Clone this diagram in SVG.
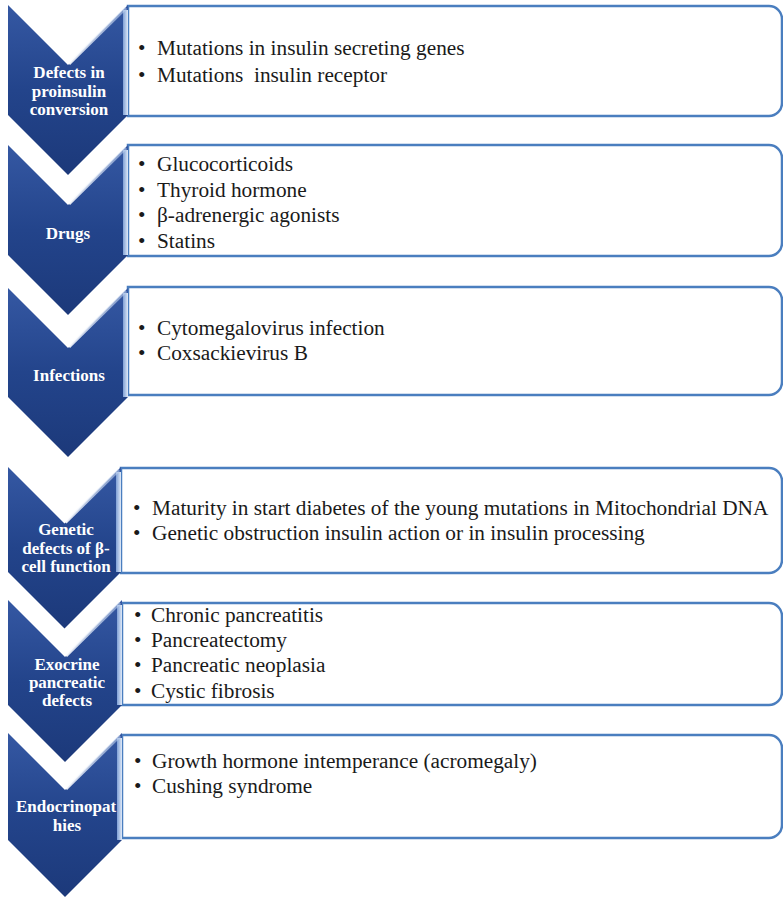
<svg xmlns="http://www.w3.org/2000/svg" width="783" height="898" viewBox="0 0 783 898">
<defs>
<linearGradient id="chev" x1="0" y1="0" x2="0" y2="1">
<stop offset="0" stop-color="#3558a3"/>
<stop offset="0.5" stop-color="#23448b"/>
<stop offset="1" stop-color="#1c397a"/>
</linearGradient>
<linearGradient id="bev" x1="0" y1="0" x2="1" y2="0">
<stop offset="0" stop-color="#7fa0d6"/>
<stop offset="1" stop-color="#dfe9f7"/>
</linearGradient>
<linearGradient id="hl" x1="0" y1="1" x2="1" y2="0">
<stop offset="0" stop-color="#ffffff" stop-opacity="0.9"/>
<stop offset="1" stop-color="#c9d9f2" stop-opacity="0.5"/>
</linearGradient>
</defs>
<style>
.box{fill:#ffffff;stroke:#4a7ebf;stroke-width:2.5}
.chev{fill:url(#chev)}
.bev{fill:url(#bev)}
.hl{fill:none;stroke:url(#hl);stroke-width:3}
.lab{font-family:"Liberation Serif","Times New Roman",serif;font-weight:bold;font-size:17px;fill:#ffffff;text-anchor:middle}
.txt{font-family:"Liberation Serif","Times New Roman",serif;font-size:21.3px;fill:#1a1a1a;white-space:pre}
</style>

<g id="connectors"></g>

<!-- Node 1 -->
<g id="node1">
<path class="box" d="M128,6 H769 A13,13 0 0 1 782,19 V103 A13,13 0 0 1 769,116 H128 Z"/>
<path class="chev" d="M8,5 L68,65 L128,5 L128,115 L68,175 L8,115 Z"/>
<rect class="bev" x="123" y="10" width="5" height="105"/>
<path class="hl" d="M69,64 L126,8"/>
<text class="lab"><tspan x="69" y="78">Defects in</tspan><tspan x="69" y="97">proinsulin</tspan><tspan x="69" y="115">conversion</tspan></text>
<text class="txt"><tspan x="138" y="55">•</tspan><tspan x="157" y="55">Mutations in insulin secreting genes</tspan></text>
<text class="txt" xml:space="preserve"><tspan x="138" y="82">•</tspan><tspan x="157" y="82">Mutations  insulin receptor</tspan></text>
</g>

<!-- Node 2 -->
<g id="node2">
<path class="box" d="M128,145 H769 A13,13 0 0 1 782,158 V243 A13,13 0 0 1 769,256 H128 Z"/>
<path class="chev" d="M8,145 L68,205 L128,145 L128,255 L68,315 L8,255 Z"/>
<rect class="bev" x="123" y="150" width="5" height="105"/>
<path class="hl" d="M69,204 L126,148"/>
<text class="lab" x="68" y="239">Drugs</text>
<text class="txt"><tspan x="138" y="171">•</tspan><tspan x="157" y="171">Glucocorticoids</tspan></text>
<text class="txt"><tspan x="138" y="197">•</tspan><tspan x="157" y="197">Thyroid hormone</tspan></text>
<text class="txt"><tspan x="138" y="222">•</tspan><tspan x="157" y="222">β-adrenergic agonists</tspan></text>
<text class="txt"><tspan x="138" y="248">•</tspan><tspan x="157" y="248">Statins</tspan></text>
</g>

<!-- Node 3 -->
<g id="node3">
<path class="box" d="M128,287 H769 A13,13 0 0 1 782,300 V382 A13,13 0 0 1 769,395 H128 Z"/>
<path class="chev" d="M8,288 L68,348 L128,288 L128,397 L68,457 L8,397 Z"/>
<rect class="bev" x="123" y="293" width="5" height="104"/>
<path class="hl" d="M69,347 L126,291"/>
<text class="lab" x="69" y="381">Infections</text>
<text class="txt"><tspan x="138" y="335">•</tspan><tspan x="157" y="335">Cytomegalovirus infection</tspan></text>
<text class="txt"><tspan x="138" y="360">•</tspan><tspan x="157" y="360">Coxsackievirus B</tspan></text>
</g>

<!-- Node 4 -->
<g id="node4">
<path class="box" d="M121,468 H769 A13,13 0 0 1 782,481 V560 A13,13 0 0 1 769,573 H121 Z"/>
<path class="chev" d="M8,467 L64.5,523.5 L121,467 L121,572 L64.5,628.5 L8,572 Z"/>
<rect class="bev" x="116" y="472" width="5" height="100"/>
<path class="hl" d="M65.5,522.5 L119,470"/>
<text class="lab"><tspan x="66" y="535">Genetic</tspan><tspan x="66" y="554">defects of β-</tspan><tspan x="66" y="572">cell function</tspan></text>
<text class="txt"><tspan x="133" y="515">•</tspan><tspan x="152" y="515">Maturity in start diabetes of the young mutations in Mitochondrial DNA</tspan></text>
<text class="txt"><tspan x="133" y="540">•</tspan><tspan x="152" y="540">Genetic obstruction insulin action or in insulin processing</tspan></text>
</g>

<!-- Node 5 -->
<g id="node5">
<path class="box" d="M122,603 H769 A13,13 0 0 1 782,616 V692 A13,13 0 0 1 769,705 H122 Z"/>
<path class="chev" d="M8,600 L65,657 L122,600 L122,705 L65,762 L8,705 Z"/>
<rect class="bev" x="117" y="605" width="5" height="100"/>
<path class="hl" d="M66,656 L120,603"/>
<text class="lab"><tspan x="67" y="670">Exocrine</tspan><tspan x="67" y="688">pancreatic</tspan><tspan x="67" y="706">defects</tspan></text>
<text class="txt"><tspan x="134" y="622">•</tspan><tspan x="151" y="622">Chronic pancreatitis</tspan></text>
<text class="txt"><tspan x="134" y="647">•</tspan><tspan x="151" y="647">Pancreatectomy</tspan></text>
<text class="txt"><tspan x="134" y="672">•</tspan><tspan x="151" y="672">Pancreatic neoplasia</tspan></text>
<text class="txt"><tspan x="134" y="698">•</tspan><tspan x="151" y="698">Cystic fibrosis</tspan></text>
</g>

<!-- Node 6 -->
<g id="node6">
<path class="box" d="M122,735 H769 A13,13 0 0 1 782,748 V825 A13,13 0 0 1 769,838 H122 Z"/>
<path class="chev" d="M8,733 L65,790 L122,733 L122,840 L65,897 L8,840 Z"/>
<rect class="bev" x="117" y="738" width="5" height="102"/>
<path class="hl" d="M66,789 L120,736"/>
<text class="lab"><tspan x="66" y="812">Endocrinopat</tspan><tspan x="67" y="831">hies</tspan></text>
<text class="txt"><tspan x="134" y="768">•</tspan><tspan x="152" y="768">Growth hormone intemperance (acromegaly)</tspan></text>
<text class="txt"><tspan x="134" y="793">•</tspan><tspan x="152" y="793">Cushing syndrome</tspan></text>
</g>
</svg>
